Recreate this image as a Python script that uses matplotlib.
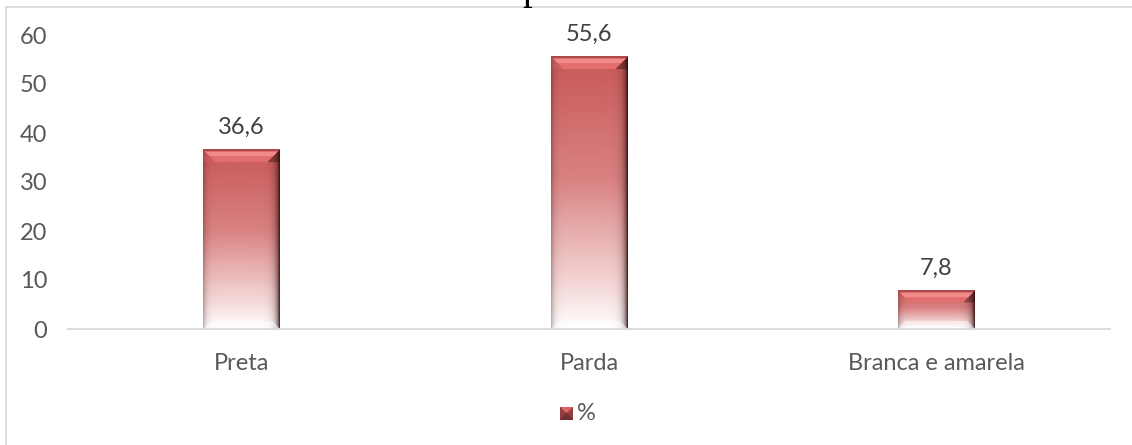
import numpy as np
import matplotlib
matplotlib.use("Agg")
import matplotlib.pyplot as plt
from matplotlib.lines import Line2D

# Data
categories = ["Preta", "Parda", "Branca e amarela"]
values = [36.6, 55.6, 7.8]
value_labels = ["36,6", "55,6", "7,8"]
y_ticks = [0, 10, 20, 30, 40, 50, 60]
legend_label = "%"

W_PX, H_PX = 1132, 445
DPI = 100
TEXT_GREY = "#595959"
LINE_GREY = "#d9d9d9"
FONT = ["Lato", "DejaVu Sans"]
FS = 17

TOP_RGB = np.array([200, 88, 88], float)
MID_RGB = np.array([218, 130, 130], float)
PALE_RGB = np.array([246, 218, 218], float)
WHITE = np.array([255, 255, 255], float)
DARK = np.array([45, 10, 10], float)
HILITE = np.array([226, 110, 110], float)
SHINE = np.array([242, 138, 138], float)


def bar_gradient(h, w, bevel=13):
    """Bevelled bar face: red fading to white, shaded sides."""
    h = max(int(round(h)), 2)
    w = max(int(round(w)), 2)
    yy, xx = np.mgrid[0:h, 0:w].astype(float)
    t = yy / max(h - 1, 1)
    # vertical colour ramp
    stops = [0.0, 0.45, 0.85, 1.0]
    cols = [TOP_RGB, MID_RGB, PALE_RGB, WHITE]
    img = np.zeros((h, w, 3))
    for c in range(3):
        img[..., c] = np.interp(t, stops, [col[c] for col in cols])
    # side shading
    dr = 0.85 * np.exp(-(w - 1 - xx) / 3.5)
    dl = 0.30 * np.exp(-xx / 3.0)
    d = np.clip(dr + dl, 0, 1)[..., None]
    img = img * (1 - d) + DARK * d
    # top bevel
    b = min(bevel, h // 3)
    top_face = (yy < b) & (xx >= yy) & (xx <= w - 1 - yy)
    face = np.where(((yy >= 3) & (yy <= 6))[..., None], SHINE, HILITE)
    face = np.where((yy < 1.5)[..., None], TOP_RGB * 0.85, face)
    img = np.where(top_face[..., None], face, img)
    right_corner = (yy < b) & (xx > w - 1 - yy)
    img = np.where(right_corner[..., None], img * 0.6 + DARK * 0.4, img)
    left_corner = (yy < b) & (xx < yy)
    img = np.where(left_corner[..., None], img * 0.8 + HILITE * 0.2, img)
    # bottom bevel
    bb = min(8, h // 4)
    bot = (yy > h - 1 - bb) & (xx >= (h - 1 - yy)) & (xx <= w - 1 - (h - 1 - yy))
    img = np.where(bot[..., None], img * 0.55 + WHITE * 0.45, img)
    return np.clip(img / 255.0, 0, 1)


fig = plt.figure(figsize=(W_PX / DPI, H_PX / DPI), dpi=DPI)
ax = fig.add_axes([68 / W_PX, 1 - 329 / H_PX, (1110 - 68) / W_PX, (329 - 35) / H_PX])

x = np.arange(len(categories))
bar_w = 0.22
ax.set_xlim(-0.5, len(categories) - 0.5)
ax.set_ylim(0, 60)

# invisible bars give the positions, images paint the faces
bars = ax.bar(x, values, width=bar_w, color="none", edgecolor="none")
fig.canvas.draw()
for rect, val, lab in zip(bars, values, value_labels):
    x0, x1 = rect.get_x(), rect.get_x() + rect.get_width()
    p0 = ax.transData.transform((x0, 0))
    p1 = ax.transData.transform((x1, val))
    img = bar_gradient(p1[1] - p0[1], p1[0] - p0[0])
    ax.imshow(img, extent=(x0, x1, 0, val), aspect="auto",
              interpolation="bilinear", zorder=2)
    ax.annotate(lab, (rect.get_x() + rect.get_width() / 2, val),
                xytext=(0, 8.5), textcoords="offset points",
                ha="center", va="bottom", fontsize=FS,
                color="#404040", family=FONT)

ax.set_xlim(-0.5, len(categories) - 0.5)
ax.set_ylim(0, 60)

for s in ["top", "right", "left"]:
    ax.spines[s].set_visible(False)
ax.spines["bottom"].set_color(LINE_GREY)
ax.spines["bottom"].set_linewidth(1.3)
ax.spines["bottom"].set_zorder(3)

ax.set_yticks(y_ticks)
ax.set_yticklabels([str(v) for v in y_ticks], family=FONT, fontsize=FS,
                   color=TEXT_GREY)
ax.set_xticks(x)
ax.set_xticklabels(categories, family=FONT, fontsize=FS, color=TEXT_GREY)
ax.tick_params(axis="y", length=0, pad=15)
ax.tick_params(axis="x", length=0, pad=17)

# legend: small bevelled swatch and label
leg_ax = fig.add_axes([560 / W_PX, 1 - 420 / H_PX, 13 / W_PX, 13 / H_PX])
yy, xx = np.mgrid[0:13, 0:13].astype(float)
sw = np.zeros((13, 13, 3))
sw[:] = np.array([150, 60, 60]) / 255
sw[(yy <= xx) & (yy <= 12 - xx)] = np.array([220, 100, 100]) / 255
sw[(yy >= xx) & (yy >= 12 - xx)] = np.array([110, 50, 50]) / 255
leg_ax.imshow(sw, interpolation="bilinear", aspect="auto")
leg_ax.axis("off")
fig.text(577 / W_PX, 1 - 413 / H_PX, legend_label, ha="left", va="center",
         fontsize=FS, color=TEXT_GREY, family=FONT)

# chart frame (left and top edges)
fig.add_artist(Line2D([5.5 / W_PX, 5.5 / W_PX], [0, 1 - 7 / H_PX],
                      transform=fig.transFigure, color=LINE_GREY, lw=1.3))
fig.add_artist(Line2D([5.5 / W_PX, 1], [1 - 7 / H_PX, 1 - 7 / H_PX],
                      transform=fig.transFigure, color=LINE_GREY, lw=1.3))

# heading, mostly above the top edge
fig.text(532 / W_PX, 1 + 0.5 / H_PX, "p", ha="center", va="baseline",
         fontsize=28, color="black", family="Liberation Serif")

fig.savefig("out.png", dpi=DPI)
